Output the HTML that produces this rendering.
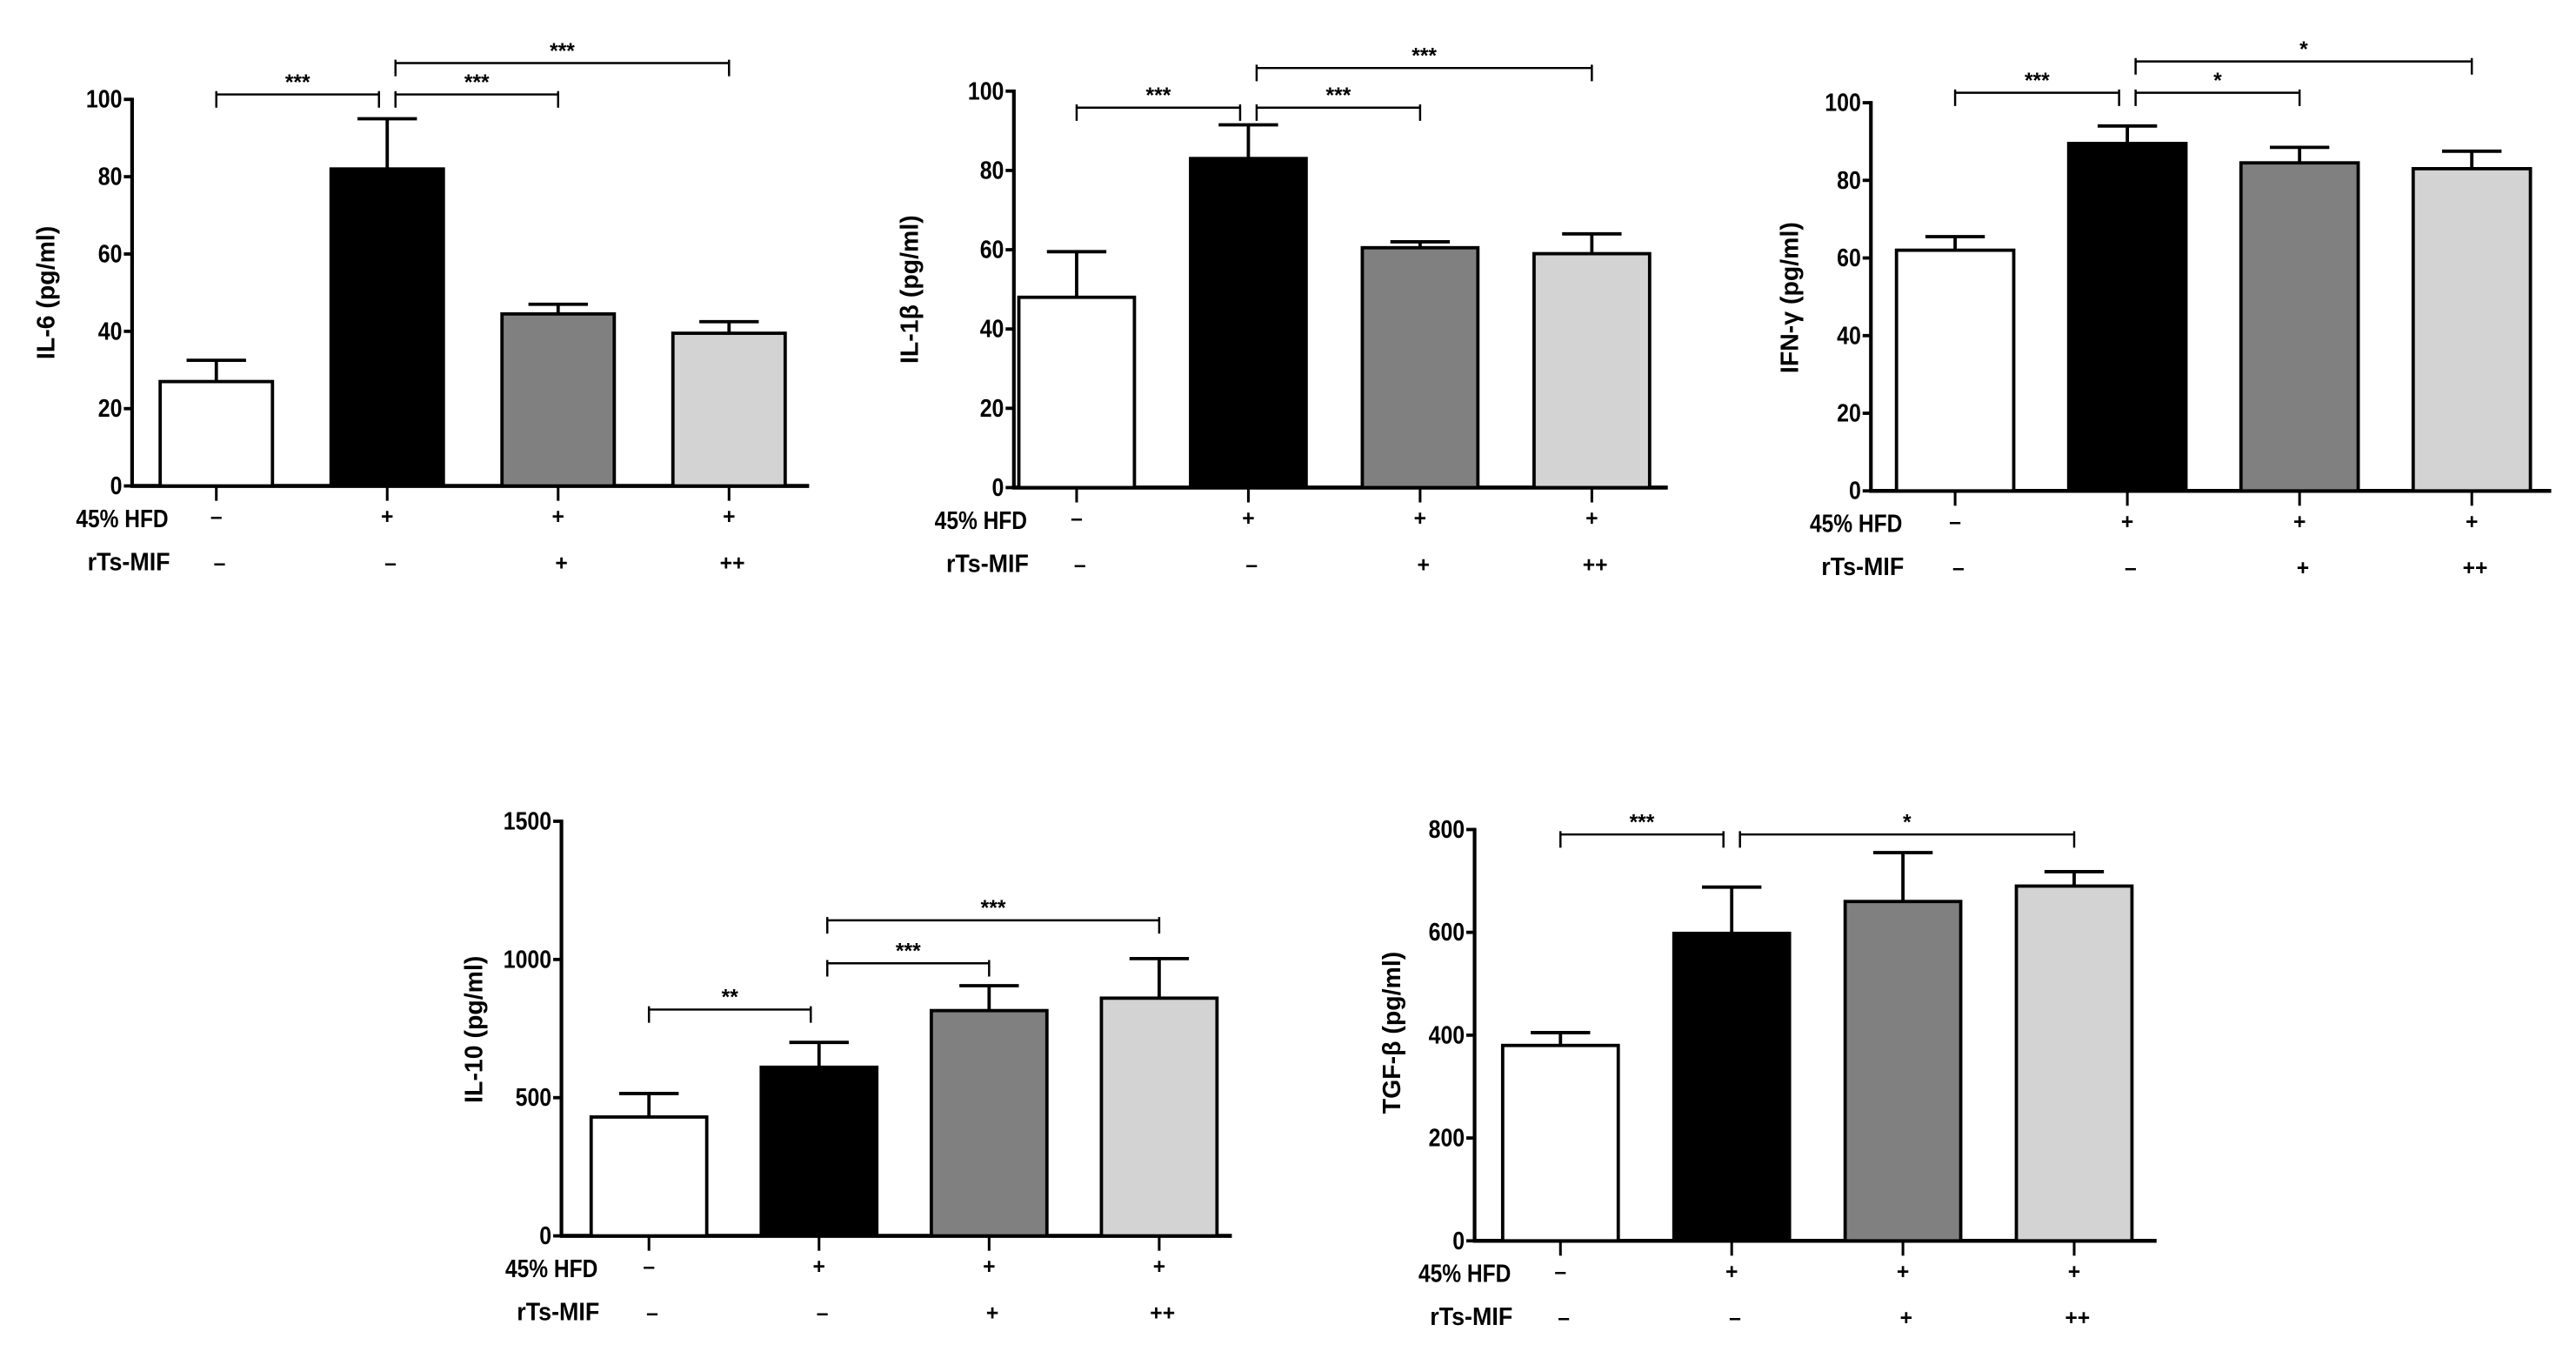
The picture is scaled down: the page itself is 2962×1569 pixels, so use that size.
<!DOCTYPE html>
<html><head><meta charset="utf-8"><style>
html,body{margin:0;padding:0;background:#fff;}
svg{display:block;}
text{font-family:"Liberation Sans Narrow","Liberation Sans",sans-serif;font-weight:bold;fill:#000;}
</style></head><body>
<svg id="fig" width="2962" height="1569" viewBox="0 0 1560 826" xmlns="http://www.w3.org/2000/svg"></svg>
<script>
// ---- data ----
const hfdLabels = ["–","+","+","+"];
const mifLabels = ["–","–","+","++"];
const barFills = ["#ffffff","#000000","#808080","#d3d3d3"];

const il6Values = [27, 82, 44.5, 39.5];
const il6Errors = [32.5, 95, 47, 42.5];
const il6Ticks = [0,20,40,60,80,100];
const il6Brackets = [[0,1,"***"],[1,2,"***"],[1,3,"***"]];

const il1bValues = [48, 83, 60.5, 59];
const il1bErrors = [59.5, 91.5, 62, 64];
const il1bTicks = [0,20,40,60,80,100];
const il1bBrackets = [[0,1,"***"],[1,2,"***"],[1,3,"***"]];

const ifngValues = [62, 89.5, 84.5, 83];
const ifngErrors = [65.5, 94, 88.5, 87.5];
const ifngTicks = [0,20,40,60,80,100];
const ifngBrackets = [[0,1,"***"],[1,2,"*"],[1,3,"*"]];

const il10Values = [430, 610, 815, 860];
const il10Errors = [515, 700, 905, 1003];
const il10Ticks = [0,500,1000,1500];
const il10Brackets = [[0,1,"**"],[1,2,"***"],[1,3,"***"]];

const tgfbValues = [380, 598, 660, 690];
const tgfbErrors = [405, 688, 755, 718];
const tgfbTicks = [0,200,400,600,800];
const tgfbBrackets = [[0,1,"***"],[1,3,"*"]];

const NS="http://www.w3.org/2000/svg";
const fig=document.getElementById('fig');
function mk(tag,attrs,parent){const e=document.createElementNS(NS,tag);for(const k in attrs)e.setAttribute(k,attrs[k]);(parent||fig).appendChild(e);return e;}

function chart(cfg){
  const g=mk('g',{});
  
  
  const ymax=cfg.ticks[cfg.ticks.length-1];
  const yS=v=>cfg.y0-(v/ymax)*(cfg.y0-cfg.yTop);
  const xS=i=>cfg.c0+i*cfg.step;
  const bw=cfg.bw;
  const ya=mk('line',{x1:cfg.ax,y1:yS(ymax)-1,x2:cfg.ax,y2:cfg.y0,stroke:'#000','stroke-width':2.2},g);
  
  
  cfg.ticks.forEach(t=>{
    mk('line',{x1:cfg.ax-5,y1:yS(t),x2:cfg.ax,y2:yS(t),stroke:'#000','stroke-width':2},g);
    const s=String(t);
    const tl=mk('text',{x:cfg.ax-6,y:yS(t)+5,'text-anchor':'end','font-size':15,textLength:s.length*7.3,lengthAdjust:'spacingAndGlyphs'},g);
    tl.textContent=t;
    
    
  });
  const xa=mk('line',{x1:cfg.ax-1,y1:cfg.y0,x2:cfg.xEnd,y2:cfg.y0,stroke:'#000','stroke-width':2.4},g);
  
  
  const yl=mk('text',{x:cfg.ylx,y:cfg.yly,'text-anchor':'middle','font-size':15,'font-family':'Liberation Sans, sans-serif',transform:`rotate(-90 ${cfg.ylx} ${cfg.yly})`},g);
  yl.textContent=cfg.label;
  
  
  cfg.values.forEach((v,i)=>{
    const cx=xS(i);
    const eb=mk('path',{d:`M${cx},${yS(v)} V${yS(cfg.errors[i])} M${cx-18},${yS(cfg.errors[i])} H${cx+18}`,stroke:'#000','stroke-width':2,fill:'none'},g);
    
    
    const r=mk('rect',{x:cx-bw/2,y:yS(v),width:bw,height:cfg.y0-yS(v),fill:barFills[i],stroke:'#000','stroke-width':2},g);
    
    
    mk('line',{x1:cx,y1:cfg.y0,x2:cx,y2:cfg.y0+9,stroke:'#000','stroke-width':1.6},g);
    const h=mk('text',{x:cx,y:cfg.y0+23,'text-anchor':'middle','font-size':13},g);
    h.textContent=hfdLabels[i];
    
    
    const m=mk('text',{x:cx+2,y:cfg.y0+51,'text-anchor':'middle','font-size':13},g);
    m.textContent=mifLabels[i];
    
    
  });
  const lx=cfg.ax+(cfg.lOff||0);
  const r1=mk('text',{x:lx-34,y:cfg.y0+25,'text-anchor':'start','font-size':15,textLength:56,lengthAdjust:'spacingAndGlyphs'},g);
  r1.textContent='45% HFD';
  
  
  const r2=mk('text',{x:lx-27,y:cfg.y0+51,'text-anchor':'start','font-size':15,textLength:50,lengthAdjust:'spacingAndGlyphs'},g);
  r2.textContent='rTs-MIF';
  
  
  cfg.brackets.forEach((b,k)=>{
    const yb=cfg.bY[k];
    const x1=xS(b[0])+(b[0]===1?5:0), x2=xS(b[1])-(b[1]===1?5:0);
    const p=mk('path',{d:`M${x1},${yb+8} V${yb-2} M${x1},${yb} H${x2} M${x2},${yb+8} V${yb-2}`,stroke:'#000','stroke-width':1.3,fill:'none'},g);
    
    
    const s=mk('text',{x:(x1+x2)/2,y:yb-3,'text-anchor':'middle','font-size':13},g);
    s.textContent=b[2];
    
    
  });
}

chart({name:'il6',label:'IL-6 (pg/ml)',values:il6Values,errors:il6Errors,ticks:il6Ticks,brackets:il6Brackets,
  ax:80,yTop:60,y0:294,c0:131,step:103.5,bw:68,xEnd:490,ylx:33,yly:177,bY:[57,57,38]});
chart({name:'il1b',label:'IL-1β (pg/ml)',values:il1bValues,errors:il1bErrors,ticks:il1bTicks,brackets:il1bBrackets,
  ax:614,yTop:55,y0:295,c0:652,step:104,bw:70,xEnd:1010,ylx:556,yly:175,bY:[65,65,41],lOff:-14});
chart({name:'ifng',label:'IFN-γ (pg/ml)',values:ifngValues,errors:ifngErrors,ticks:ifngTicks,brackets:ifngBrackets,
  ax:1133,yTop:62,y0:297,c0:1184,step:104.3,bw:71,xEnd:1545,ylx:1089,yly:180,bY:[56,56,37],lOff:-3});
chart({name:'il10',label:'IL-10 (pg/ml)',values:il10Values,errors:il10Errors,ticks:il10Ticks,brackets:il10Brackets,
  ax:340,yTop:497,y0:748,c0:393,step:103,bw:70,xEnd:746,ylx:292,yly:623,bY:[611,583,557]});
chart({name:'tgfb',label:'TGF-β (pg/ml)',values:tgfbValues,errors:tgfbErrors,ticks:tgfbTicks,brackets:tgfbBrackets,
  ax:893,yTop:502,y0:751,c0:945,step:103.7,bw:70,xEnd:1306,ylx:848,yly:625,bY:[505,505]});
</script>
</body></html>
